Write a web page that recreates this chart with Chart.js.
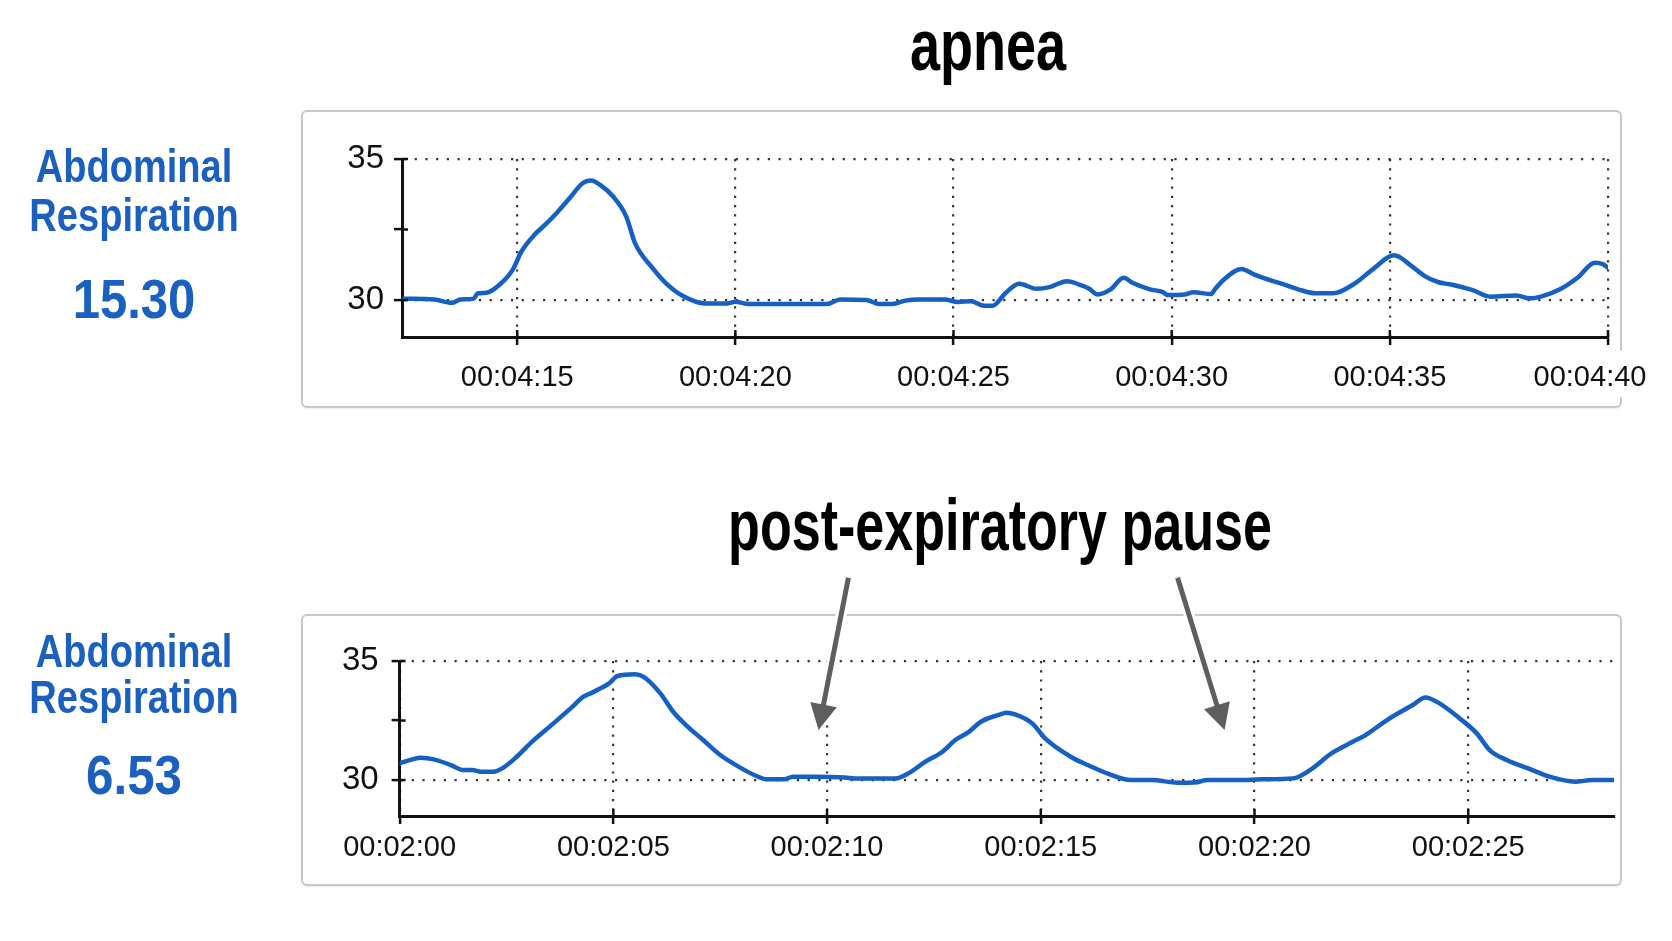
<!DOCTYPE html>
<html>
<head>
<meta charset="utf-8">
<script src="https://cdn.jsdelivr.net/npm/chart.js@4.4.0/dist/chart.umd.min.js"></script>
<style>
html,body{margin:0;padding:0;background:#fff;width:1672px;height:941px;overflow:hidden;}
.box{position:absolute;border:2px solid #c8c8c8;border-radius:6px;box-sizing:border-box;background:#fff;box-shadow:0 1px 2px rgba(0,0,0,0.08);z-index:0;}
canvas{position:absolute;left:0;z-index:1;}
.txt{position:absolute;white-space:nowrap;text-align:center;font-family:'Liberation Sans',Arial,sans-serif;font-weight:bold;z-index:2;transform-origin:50% 50%;}
.title{font-size:73px;line-height:73px;color:#000;}
.lab{font-size:47px;color:#1b5fbf;}
.val{font-size:56px;line-height:56px;color:#1b5fbf;}
</style>
</head>
<body>
<div class="box" style="left:301px;top:110px;width:1321px;height:298px;"></div>
<div class="box" style="left:301px;top:614px;width:1321px;height:272px;"></div>
<canvas id="topChart" width="1672" height="470" style="top:0;width:1672px;height:470px;"></canvas>
<canvas id="bottomChart" width="1672" height="471" style="top:470px;width:1672px;height:471px;"></canvas>

<div class="txt title" style="left:988px;top:8px;transform:translateX(-50%) scaleX(0.74);">apnea</div>
<div class="txt title" style="left:1000px;top:488px;transform:translateX(-50%) scaleX(0.713);">post-expiratory pause</div>
<div class="txt lab" style="left:134px;top:141px;line-height:49px;transform:translateX(-50%) scaleX(0.81);">Abdominal<br>Respiration</div>
<div class="txt val" style="left:134px;top:271px;transform:translateX(-50%) scaleX(0.875);">15.30</div>
<div class="txt lab" style="left:134px;top:628px;line-height:46px;transform:translateX(-50%) scaleX(0.81);">Abdominal<br>Respiration</div>
<div class="txt val" style="left:134px;top:747px;transform:translateX(-50%) scaleX(0.88);">6.53</div>

<script>
// ---- data ----
const topTimes = [252.4, 253.1, 253.5, 253.7, 254.0, 254.1, 254.3, 254.6, 254.9, 255.1, 255.4, 255.6, 255.9, 256.2, 256.5, 256.7, 256.9, 257.2, 257.5, 257.7, 258.1, 258.4, 258.8, 259.3, 259.8, 260.0, 260.3, 260.8, 262.1, 262.4, 263.0, 263.3, 263.6, 263.9, 264.2, 264.8, 265.1, 265.4, 265.7, 265.9, 266.2, 266.5, 266.6, 266.9, 267.2, 267.6, 267.9, 268.1, 268.3, 268.6, 268.9, 269.1, 269.5, 269.8, 269.9, 270.3, 270.5, 270.9, 271.0, 271.2, 271.6, 271.9, 272.2, 272.5, 272.9, 273.3, 273.7, 274.2, 274.6, 275.1, 275.5, 275.8, 276.1, 276.4, 276.9, 277.3, 277.9, 278.2, 278.5, 278.9, 279.3, 279.7, 279.9, 280.0];
const topValues = [30.05, 30.02, 29.9, 30.02, 30.05, 30.24, 30.26, 30.55, 31.08, 31.73, 32.32, 32.61, 33.08, 33.61, 34.14, 34.24, 34.08, 33.67, 32.96, 32.02, 31.14, 30.61, 30.14, 29.88, 29.88, 29.94, 29.86, 29.86, 29.86, 30.02, 30.0, 29.86, 29.86, 29.98, 30.02, 30.02, 29.93, 29.96, 29.8, 29.8, 30.26, 30.58, 30.55, 30.4, 30.46, 30.67, 30.54, 30.41, 30.2, 30.38, 30.79, 30.61, 30.38, 30.28, 30.18, 30.2, 30.28, 30.21, 30.4, 30.73, 31.1, 30.9, 30.73, 30.59, 30.38, 30.24, 30.24, 30.59, 31.08, 31.59, 31.2, 30.85, 30.64, 30.55, 30.35, 30.12, 30.16, 30.06, 30.14, 30.38, 30.79, 31.32, 31.26, 31.14];
const bottomTimes = [120.0, 120.3, 120.5, 120.8, 121.2, 121.5, 121.7, 121.9, 122.2, 122.4, 122.7, 123.1, 123.6, 124.0, 124.3, 124.5, 124.9, 125.1, 125.5, 125.7, 126.1, 126.4, 126.7, 127.1, 127.5, 128.0, 128.3, 128.6, 129.0, 129.2, 129.7, 130.4, 130.7, 131.6, 131.9, 132.3, 132.7, 133.0, 133.3, 133.6, 134.0, 134.2, 134.4, 134.8, 135.1, 135.7, 136.1, 136.6, 137.1, 137.6, 138.2, 138.6, 138.9, 139.6, 140.2, 140.9, 141.3, 141.8, 142.3, 142.6, 143.1, 143.7, 144.0, 144.3, 144.8, 145.2, 145.5, 145.9, 146.5, 146.9, 147.5, 147.9, 148.4];
const bottomValues = [30.70, 30.87, 30.94, 30.87, 30.63, 30.42, 30.42, 30.35, 30.35, 30.49, 30.91, 31.61, 32.38, 33.01, 33.50, 33.67, 34.06, 34.37, 34.44, 34.34, 33.64, 32.87, 32.31, 31.68, 31.05, 30.49, 30.21, 30.03, 30.03, 30.14, 30.14, 30.11, 30.06, 30.07, 30.28, 30.77, 31.19, 31.68, 32.0, 32.45, 32.73, 32.83, 32.76, 32.38, 31.75, 30.98, 30.63, 30.25, 30.0, 30.0, 29.89, 29.9, 30.0, 30.0, 30.03, 30.07, 30.42, 31.12, 31.61, 31.89, 32.52, 33.15, 33.47, 33.25, 32.59, 31.96, 31.26, 30.84, 30.42, 30.14, 29.93, 30.0, 30.0];
const topTickValues = [255, 260, 265, 270, 275, 280];
const topTickLabels = ['00:04:15', '00:04:20', '00:04:25', '00:04:30', '00:04:35', '00:04:40'];
const bottomTickValues = [120, 125, 130, 135, 140, 145];
const bottomTickLabels = ['00:02:00', '00:02:05', '00:02:10', '00:02:15', '00:02:20', '00:02:25'];
const yTickValues = [30, 32.5, 35];
const yTickLabels = ['30', '', '35'];
// annotation arrows (data coordinates of bottom chart): [time, value]
const arrowTails = [[130.5, 38.5], [138.2, 38.5]];
const arrowTips = [[129.8, 32.1], [139.3, 32.1]];

// ---- styles ----
const LINE = '#1560c2';
const GRID = '#333';
const AXIS = '#111';
const ARROW = '#5e5e5e';
const TICKFONT = "'Liberation Sans', Arial, sans-serif";

const crossTicks = {
  id: 'crossTicks',
  afterDraw(chart) {
    const {ctx, chartArea: a, scales: {x, y}} = chart;
    ctx.save();
    ctx.strokeStyle = AXIS; ctx.lineWidth = 2.5;
    x.ticks.forEach(t => {
      const px = x.getPixelForValue(t.value);
      ctx.beginPath(); ctx.moveTo(px, a.bottom - 7); ctx.lineTo(px, a.bottom); ctx.stroke();
    });
    y.ticks.forEach(t => {
      const py = y.getPixelForValue(t.value);
      ctx.beginPath(); ctx.moveTo(a.left, py); ctx.lineTo(a.left + 6, py); ctx.stroke();
    });
    ctx.restore();
  }
};

const shiftLastLabel = {
  id: 'shiftLastLabel',
  beforeDraw(chart) {
    try {
      const s = chart.scales.x;
      if (typeof s.getLabelItems !== 'function') return;
      const items = s.getLabelItems(chart.chartArea);
      const it = items[items.length - 1];
      if (it && !it._shifted) { it.options.translation[0] -= 18; it._shifted = true; }
    } catch (e) {}
  }
};

const arrowPlugin = {
  id: 'arrows',
  afterDraw(chart) {
    const {ctx, scales: {x, y}} = chart;
    arrowTips.forEach((tip, i) => {
      const x1 = x.getPixelForValue(arrowTails[i][0]), y1 = y.getPixelForValue(arrowTails[i][1]);
      const x2 = x.getPixelForValue(tip[0]), y2 = y.getPixelForValue(tip[1]);
      const ang = Math.atan2(y2 - y1, x2 - x1);
      const headLen = 26, headW = 13.5;
      const bx = x2 - headLen * Math.cos(ang), by = y2 - headLen * Math.sin(ang);
      const px = -Math.sin(ang), py = Math.cos(ang);
      ctx.save();
      ctx.lineCap = 'butt';
      ctx.strokeStyle = '#fff'; ctx.lineWidth = 11;
      ctx.beginPath(); ctx.moveTo(x1, y1); ctx.lineTo(bx, by); ctx.stroke();
      ctx.beginPath();
      ctx.moveTo(x2, y2); ctx.lineTo(bx + px * headW, by + py * headW); ctx.lineTo(bx - px * headW, by - py * headW); ctx.closePath();
      ctx.lineWidth = 5; ctx.lineJoin = 'round'; ctx.stroke();
      ctx.strokeStyle = ARROW; ctx.lineWidth = 5;
      ctx.beginPath(); ctx.moveTo(x1, y1); ctx.lineTo(bx + Math.cos(ang) * 2, by + Math.sin(ang) * 2); ctx.stroke();
      ctx.fillStyle = ARROW;
      ctx.beginPath();
      ctx.moveTo(x2, y2); ctx.lineTo(bx + px * headW, by + py * headW); ctx.lineTo(bx - px * headW, by - py * headW); ctx.closePath();
      ctx.fill();
      ctx.restore();
    });
  }
};

function buildChart(id, times, values, xTicks, xLabels, cfg) {
  return new Chart(document.getElementById(id), {
    type: 'line',
    data: {
      datasets: [{
        data: times.map((t, i) => ({x: t, y: values[i]})),
        borderColor: LINE, borderWidth: 4.5, pointRadius: 0, fill: false,
        cubicInterpolationMode: 'monotone', borderCapStyle: 'round', borderJoinStyle: 'round'
      }]
    },
    options: {
      responsive: false, animation: false, events: [],
      layout: {padding: cfg.padding},
      plugins: {legend: {display: false}, tooltip: {enabled: false}, title: {display: false}},
      scales: {
        x: {
          type: 'linear', min: cfg.xMin, max: cfg.xMax,
          afterBuildTicks: s => { s.ticks = xTicks.map(v => ({value: v})); },
          afterFit: s => { s.height = 60; s.paddingLeft = 0; s.paddingRight = 0; },
          grid: {color: GRID, lineWidth: 2.2, tickLength: 8, tickColor: AXIS, tickWidth: 2.5},
          border: {color: AXIS, width: 3, dash: [2.2, 7]},
          ticks: {
            callback: (v, i) => xLabels[i], autoSkip: false, maxRotation: 0,
            font: {family: TICKFONT, size: 29}, color: '#111', padding: cfg.xPad,
            showLabelBackdrop: c => !!cfg.backdropLast && c.index === xTicks.length - 1,
            backdropColor: '#fff', backdropPadding: {top: 10, bottom: 4, left: 3, right: 3}
          }
        },
        y: {
          min: cfg.yMin, max: cfg.yMax,
          afterBuildTicks: s => { s.ticks = yTickValues.map(v => ({value: v})); },
          afterFit: s => { s.width = 100; },
          grid: {
            color: c => (c.tick && c.tick.value === 32.5) ? 'rgba(0,0,0,0)' : GRID,
            lineWidth: 2.2, tickLength: 8, tickColor: AXIS, tickWidth: 2.5
          },
          border: {color: AXIS, width: 3, dash: [2.2, 8.5]},
          ticks: {callback: (v, i) => yTickLabels[i], font: {family: TICKFONT, size: 33}, color: '#111', padding: cfg.yPad}
        }
      }
    },
    plugins: cfg.plugins
  });
}

buildChart('topChart', topTimes, topValues, topTickValues, topTickLabels, {
  padding: {left: 302, right: 64, top: 159, bottom: 73},
  xMin: 252.36, xMax: 280, yMin: 28.69, yMax: 35, xPad: 15.5, yPad: 10, backdropLast: true,
  plugins: [crossTicks, shiftLastLabel]
});
buildChart('bottomChart', bottomTimes, bottomValues, bottomTickValues, bottomTickLabels, {
  padding: {left: 299.6, right: 58, top: 191, bottom: 65},
  xMin: 120, xMax: 148.41, yMin: 28.49, yMax: 35, xPad: 7, yPad: 13, backdropLast: false,
  plugins: [crossTicks, arrowPlugin]
});
</script>
</body>
</html>
